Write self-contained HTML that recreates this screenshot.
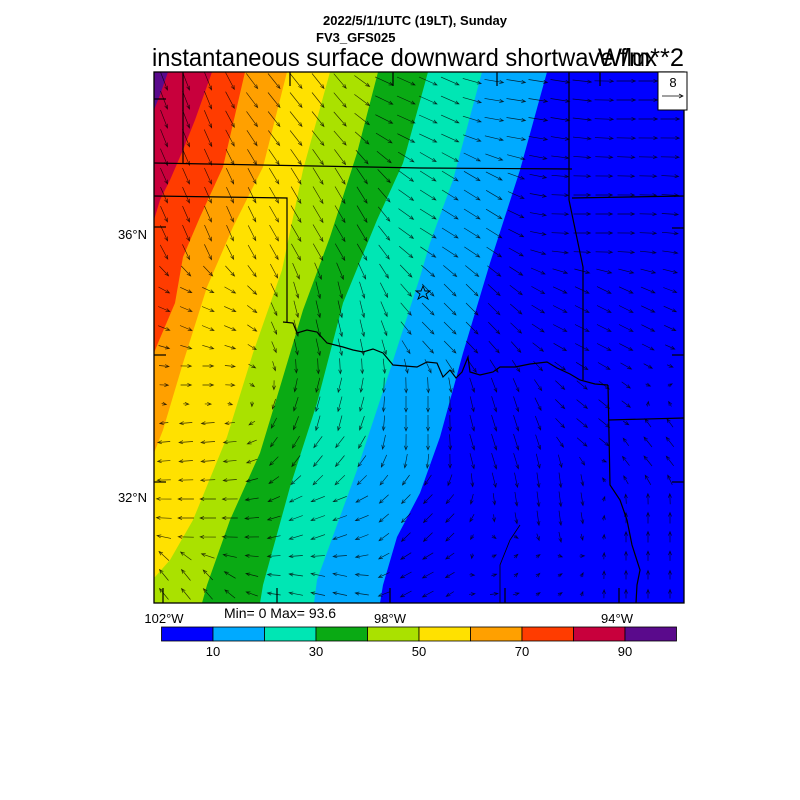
<!DOCTYPE html>
<html><head><meta charset="utf-8"><style>
html,body{margin:0;padding:0;background:#fff;}
svg{display:block;font-family:"Liberation Sans",sans-serif;}
</style></head><body>
<svg id="s" width="800" height="800" viewBox="0 0 800 800" xmlns="http://www.w3.org/2000/svg">
<text x="415" y="25" font-size="13" font-weight="bold" text-anchor="middle">2022/5/1/1UTC (19LT), Sunday</text>
<text x="316" y="42" font-size="13" font-weight="bold">FV3_GFS025</text>
<text x="152" y="66" font-size="25" textLength="505" lengthAdjust="spacingAndGlyphs">instantaneous surface downward shortwave flux</text>
<text x="598" y="66" font-size="25" textLength="86" lengthAdjust="spacingAndGlyphs">W/m**2</text>
<defs><clipPath id="c"><rect x="154" y="72" width="530" height="531"/></clipPath></defs>
<g clip-path="url(#c)">
<rect x="154" y="72" width="530" height="531" fill="#0000ff"/>
<polygon fill="#00aaff" points="154,72 547,72 520,170 490,263 463,353 440,437 420,493 397,537 383,585 380,603 154,603"/>
<polygon fill="#00e6b4" points="154,72 482,72 453,180 430,243 420,277 390,370 357,470 317,580 314,603 154,603"/>
<polygon fill="#0aaa14" points="154,72 428,72 403,163 377,220 343,303 317,403 290,487 263,585 260,603 154,603"/>
<polygon fill="#aae100" points="154,72 378,72 357,153 330,237 303,310 280,387 260,453 230,520 207,585 202,603 154,603"/>
<polygon fill="#ffe100" points="154,72 330,72 303,170 282,270 253,353 227,437 193,520 170,560 155,577 154,577"/>
<polygon fill="#ffa000" points="154,72 287,72 263,167 233,227 207,287 183,363 163,430 154,453"/>
<polygon fill="#ff3c00" points="154,72 245,72 223,167 200,217 183,257 175,303 158,343 154,353"/>
<polygon fill="#c8003c" points="154,72 212,72 195,120 183,150 170,180 160,200 154,220"/>
<polygon fill="#5a0a8c" points="154,72 168,72 160,95 154,110"/>
<g id="arr" stroke="#000" stroke-width="0.65" fill="none" stroke-opacity="0.8"></g>
<g stroke="#000" stroke-width="1.2" fill="none">
<polyline points="154,163 420,168 572,169"/>
<line x1="183" y1="72" x2="183" y2="163"/>
<polyline points="154,196 287,198 287,322"/>
<polyline points="283,322 293,323 297,333 307,330 317,332 327,343 343,347 353,350 363,352 373,349 383,353 393,365 405,366 417,367 427,362 437,363 443,377 450,370 456,378 462,372 468,357 470,372 480,375 493,372 500,367 515,367 530,364 547,362 557,368 570,374 580,380 595,384 608,385"/>
<polyline points="569,72 569,200 583,267 583,380"/>
<polyline points="572,198 685,196"/>
<polyline points="608,385 610,485 620,500 627,520 632,545 640,570 637,585 636,603"/>
<polyline points="608,420 685,418"/>
</g>
<g stroke="#000" stroke-width="0.8" fill="none">
<polyline points="500,603 500,565 510,540 520,525"/>
</g>
<polygon points="423,286 425,291 430,291 426,294 428,299 423,296 418,299 420,294 416,291 421,291" fill="none" stroke="#000" stroke-width="0.9"/>
</g>
<rect x="154" y="72" width="530" height="531" fill="none" stroke="#000" stroke-width="1.3"/>
<g stroke="#000" stroke-width="1.2">
<line x1="154" y1="99" x2="166" y2="99"/><line x1="154" y1="227" x2="166" y2="227"/><line x1="154" y1="355" x2="166" y2="355"/><line x1="154" y1="482" x2="166" y2="482"/>
<line x1="684" y1="228" x2="672" y2="228"/><line x1="684" y1="355" x2="672" y2="355"/><line x1="684" y1="482" x2="672" y2="482"/>
<line x1="163" y1="603" x2="163" y2="588"/><line x1="277" y1="603" x2="277" y2="588"/><line x1="390" y1="603" x2="390" y2="588"/><line x1="505" y1="603" x2="505" y2="588"/><line x1="619" y1="603" x2="619" y2="588"/>
<line x1="290" y1="72" x2="290" y2="86"/><line x1="393" y1="72" x2="393" y2="86"/><line x1="497" y1="72" x2="497" y2="86"/><line x1="600" y1="72" x2="600" y2="86"/>
</g>
<rect x="658" y="72" width="29" height="38" fill="#fff" stroke="#000" stroke-width="1"/>
<text x="673" y="87" font-size="13" text-anchor="middle">8</text>
<line x1="662" y1="96" x2="683" y2="96" stroke="#000" stroke-width="0.7"/>
<polyline points="679,94 683,96 679,98" fill="none" stroke="#000" stroke-width="0.7"/>
<g font-size="13">
<text x="147" y="239" text-anchor="end">36°N</text>
<text x="147" y="502" text-anchor="end">32°N</text>
<text x="164" y="623" text-anchor="middle">102°W</text>
<text x="390" y="623" text-anchor="middle">98°W</text>
<text x="617" y="623" text-anchor="middle">94°W</text>
<text x="224" y="618" font-size="14">Min= 0 Max= 93.6</text>
</g>
<g stroke="#000" stroke-width="0.8">
<rect x="161.5" y="627" width="51.5" height="14" fill="#0000ff"/>
<rect x="213" y="627" width="51.5" height="14" fill="#00aaff"/>
<rect x="264.5" y="627" width="51.5" height="14" fill="#00e6b4"/>
<rect x="316" y="627" width="51.5" height="14" fill="#0aaa14"/>
<rect x="367.5" y="627" width="51.5" height="14" fill="#aae100"/>
<rect x="419" y="627" width="51.5" height="14" fill="#ffe100"/>
<rect x="470.5" y="627" width="51.5" height="14" fill="#ffa000"/>
<rect x="522" y="627" width="51.5" height="14" fill="#ff3c00"/>
<rect x="573.5" y="627" width="51.5" height="14" fill="#c8003c"/>
<rect x="625" y="627" width="51.5" height="14" fill="#5a0a8c"/>
</g>
<g font-size="13" text-anchor="middle">
<text x="213" y="656">10</text><text x="316" y="656">30</text><text x="419" y="656">50</text><text x="522" y="656">70</text><text x="625" y="656">90</text>
</g>
</svg>
<script>
var A=[[170,90,7,18],[300,90,12,15],[420,90,18,8],[520,90,19,3],[650,90,19,0],
[200,220,7,16],[330,220,10,17],[450,220,16,10],[600,220,17,0],
[200,320,12,5],[330,320,4,17],[450,320,12,12],[600,320,14,7],
[200,380,11,0],[200,440,-14,1],[200,520,-16,0],[180,585,-9,-11],
[330,420,-4,15],[330,450,-9,11],[330,520,-14,5],[330,590,-14,-3],
[420,420,0,16],[420,520,-9,9],[420,580,-11,6],
[500,440,5,16],[550,500,2,15],[520,575,3,-3],[600,420,11,9],[645,450,-8,-10],[650,520,0,-11],[640,590,0,-9],[500,600,8,-1]];
var g=document.getElementById('arr'),h='';
for(var y=81;y<603;y+=19){for(var x=164;x<684;x+=22){
var su=0,sv=0,sw=0;for(var i=0;i<A.length;i++){var dx=x-A[i][0],dy=y-A[i][1],d=dx*dx+dy*dy+1,w=1/(d*d);su+=w*A[i][2];sv+=w*A[i][3];sw+=w;}
var u=su/sw,v=sv/sw,L=Math.sqrt(u*u+v*v)||1,l=Math.min(Math.max(L,5),20);u=u/L*l;v=v/L*l;
var x0=x-u/2,y0=y-v/2,x1=x+u/2,y1=y+v/2,ux=u/l,vy=v/l;
var hx1=x1-4*ux+1.6*vy,hy1=y1-4*vy-1.6*ux,hx2=x1-4*ux-1.6*vy,hy2=y1-4*vy+1.6*ux;
h+='<path d="M'+x0.toFixed(1)+' '+y0.toFixed(1)+'L'+x1.toFixed(1)+' '+y1.toFixed(1)+'M'+hx1.toFixed(1)+' '+hy1.toFixed(1)+'L'+x1.toFixed(1)+' '+y1.toFixed(1)+'L'+hx2.toFixed(1)+' '+hy2.toFixed(1)+'"/>';}}
g.innerHTML=h;
</script>
</body></html>
